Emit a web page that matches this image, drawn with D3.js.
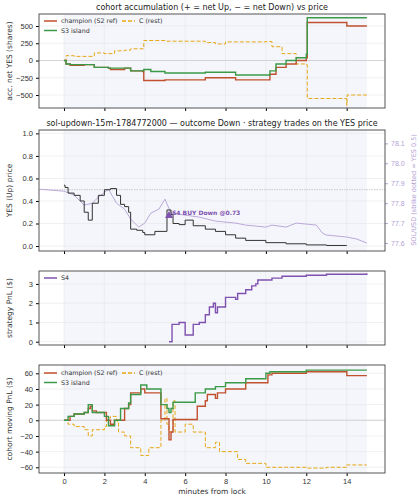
<!DOCTYPE html><html><head><meta charset="utf-8"><script src="https://cdn.jsdelivr.net/npm/d3@7"></script>
<style>body{margin:0;background:#fff}svg{font-family:"DejaVu Sans",sans-serif}</style></head><body><svg id="c" width="419" height="500"></svg><script>
const accChampion=[[0,0],[0.1,-50],[0.3,-70],[1,-60],[1.5,-100],[2.2,-110],[2.3,-130],[3,-110],[3.3,-150],[3.9,-160],[3.95,-290],[5,-280],[7,-250],[8.5,-280],[10,-280],[10.2,-200],[10.5,-100],[11,-50],[11.5,0],[12,40],[12.05,550],[14,550],[14.01,500],[15,500]];
const accS3=[[0,0],[0.1,-50],[0.3,-60],[1,-60],[1.5,-100],[2.2,-110],[3,-110],[3.3,-150],[3.95,-130],[4.3,-160],[5,-180],[7,-170],[8.5,-210],[10,-210],[10.2,-150],[10.5,-50],[11,0],[11.5,40],[12,90],[12.05,620],[15,620]];
const accC=[[0,0],[0.1,70],[0.5,60],[1.5,110],[2,100],[2.5,140],[3,150],[3.3,170],[3.95,290],[5,280],[7,260],[7.5,240],[8,270],[10,275],[10.3,200],[10.8,100],[11.5,-50],[12,-60],[12.05,-550],[13.98,-550],[14,-650],[14.02,-500],[15,-500]];
const yesPrice=[[0,0.54],[0.05,0.52],[0.2,0.47],[0.5,0.45],[0.8,0.4],[1,0.3],[1.2,0.23],[1.4,0.38],[1.7,0.45],[2,0.5],[2.3,0.51],[2.6,0.45],[2.8,0.37],[3,0.35],[3.2,0.3],[3.3,0.15],[3.6,0.14],[3.9,0.12],[4,0.1],[4.5,0.13],[5,0.13],[5.1,0.32],[5.3,0.28],[5.4,0.2],[5.7,0.19],[6,0.23],[6.4,0.18],[7,0.15],[7.5,0.13],[8,0.1],[8.5,0.07],[9,0.05],[10,0.03],[11,0.02],[12,0.01],[13,0.005],[14,0.003]];
const solPrice=[[-1.2,77.87],[0,77.86],[0.5,77.84],[1,77.79],[1.4,77.80],[1.7,77.83],[2.2,77.87],[2.6,77.80],[3,77.77],[3.3,77.72],[3.7,77.68],[4,77.70],[4.3,77.75],[4.7,77.77],[5,77.82],[5.3,77.75],[6,77.74],[6.7,77.73],[7.5,77.71],[8.5,77.70],[9,77.69],[10,77.68],[10.3,77.69],[11,77.68],[11.5,77.70],[12.5,77.69],[12.8,77.65],[13,77.64],[14,77.63],[14.5,77.62],[15,77.60]];
const s4Pnl=[[5.2,0],[5.35,0.9],[5.7,1.0],[6.0,0.35],[6.4,0.9],[6.7,1.0],[7,1.4],[7.2,1.8],[7.4,2.0],[7.5,1.5],[7.6,1.8],[8,2.3],[8.5,2.2],[8.6,2.5],[9,2.7],[9.3,2.9],[9.5,3.0],[9.6,3.2],[10,3.2],[10.3,3.3],[10.8,3.4],[12,3.45],[13,3.5],[15,3.55]];
const pnlChampion=[[0,0],[0.3,5],[0.5,8],[1,10],[1.2,15],[1.3,18],[1.4,12],[1.6,10],[2,10],[2.1,0],[2.3,-5],[2.5,0],[3,15],[3.2,20],[3.3,35],[3.8,40],[4,35],[4.6,35],[4.8,2],[5.1,2],[5.2,-25],[5.3,-15],[5.4,1],[6.5,1],[6.6,18],[7,25],[7.1,33],[7.5,28],[7.6,35],[8,40],[9,48],[10,48],[10.1,58],[10.3,60],[12,62],[14,62],[14.01,57],[15,57]];
const pnlS3=[[0,0],[0.2,5],[0.5,8],[1,10],[1.2,20],[1.4,10],[2,5],[2.2,-7],[2.5,0],[2.8,15],[3.2,22],[3.3,33],[3.8,45],[4.1,40],[4.7,40],[4.8,20],[5.1,15],[5.2,10],[5.3,15],[5.4,23],[6.3,23],[6.5,35],[7,40],[7.5,43],[8,48],[9,53],[10,60],[10.2,62],[12,64],[15,64]];
const pnlC=[[0,0],[0.2,-5],[0.5,-8],[1,-12],[1.2,-20],[1.4,-12],[2,-8],[2.1,3],[2.3,5],[2.6,-1],[2.7,-15],[3,-20],[3.3,-35],[3.8,-45],[4.2,-35],[4.6,-35],[4.8,0],[5.0,28],[5.1,-5],[5.2,-15],[5.4,25],[5.5,-15],[6,-5],[6.4,-15],[7,-35],[7.5,-28],[7.7,-40],[8.5,-40],[8.6,-50],[9,-55],[10,-60],[11,-60],[12,-61],[13,-60],[14,-57],[15,-57]];
const xTicks=[0,2,4,6,8,10,12,14];
const trade={x:5.2,y:0.27,label:"S4 BUY Down @0.73"};
const COL={ch:"#c1502e",s3:"#3b9a48",c:"#e6a817",s4:"#7f52b0",sol:"#b3a0d6"};

const svg=d3.select("#c");
const L=39,R=385;
const x=d3.scaleLinear().domain([-1.24,15.9]).range([L,R]);
function panel(top,bot,dom,ticks,ylab,fmt,showX){
  const y=d3.scaleLinear().domain(dom).range([bot,top]);
  const g=svg.append("g");
  g.append("rect").attr("x",L).attr("y",top).attr("width",R-L).attr("height",bot-top).attr("fill","#fff");
  g.append("rect").attr("x",x(0)).attr("y",top).attr("width",x(15)-x(0)).attr("height",bot-top).attr("fill","#f4f6fb");
  xTicks.forEach(t=>g.append("line").attr("x1",x(t)).attr("x2",x(t)).attr("y1",top).attr("y2",bot).attr("stroke","#e6e6e6").attr("stroke-width",0.6));
  ticks.forEach(t=>g.append("line").attr("x1",L).attr("x2",R).attr("y1",y(t)).attr("y2",y(t)).attr("stroke","#e6e6e6").attr("stroke-width",0.6));
  const ax=g.append("g").attr("transform",`translate(${L},0)`).call(d3.axisLeft(y).tickValues(ticks).tickFormat(fmt).tickSize(3));
  ax.select(".domain").remove();ax.selectAll("text").attr("font-size",7.5).attr("fill","#333");
  const bx=g.append("g").attr("transform",`translate(0,${bot})`).call(d3.axisBottom(x).tickValues(xTicks).tickSize(3).tickFormat(showX?d3.format("d"):""));
  bx.select(".domain").remove();bx.selectAll("text").attr("font-size",7.5).attr("fill","#333");
  g.append("text").attr("transform",`translate(12,${(top+bot)/2}) rotate(-90)`).attr("text-anchor","middle").attr("font-size",7.5).attr("fill","#333").text(ylab);
  return {g,y,top,bot,frame:()=>svg.append("rect").attr("x",L).attr("y",top).attr("width",R-L).attr("height",bot-top).attr("fill","none").attr("stroke","#555").attr("stroke-width",1)};
}
const minus=d=>d3.format("d")(d).replace("-","−");
function step(p,data,col,w,dash,op){
  const ln=d3.line().x(d=>x(d[0])).y(d=>p.y(d[1])).curve(d3.curveStepAfter);
  p.g.append("path").attr("d",ln(data)).attr("fill","none").attr("stroke",col).attr("stroke-width",w).attr("stroke-dasharray",dash||null).attr("opacity",op||1);
}
function legend(p,items,x0,y0){
  items.forEach((it,i)=>{
    const xx=x0+(it.col2?78:0),yy=y0+(it.row||0)*9.5;
    p.g.append("line").attr("x1",xx).attr("x2",xx+13).attr("y1",yy).attr("y2",yy).attr("stroke",it.c).attr("stroke-width",1.5).attr("stroke-dasharray",it.d||null);
    p.g.append("text").attr("x",xx+17).attr("y",yy+2.3).attr("font-size",6.3).attr("fill","#333").text(it.t);
  });
}
svg.append("text").attr("x",212).attr("y",10).attr("text-anchor","middle").attr("font-size",8).attr("fill","#222").text("cohort accumulation (+ = net Up, − = net Down) vs price");
const p1=panel(14,108,[-688,674],[-500,-250,0,250,500],"acc. net YES (shares)",minus,false);
p1.g.append("line").attr("x1",L).attr("x2",R).attr("y1",p1.y(0)).attr("y2",p1.y(0)).attr("stroke","#ccc").attr("stroke-width",0.8);
step(p1,accC,COL.c,1,"4,2");
step(p1,accChampion,COL.ch,1.4);
step(p1,accS3,COL.s3,1.4);
legend(p1,[{t:"champion (S2 ref)",c:COL.ch},{t:"C (rest)",c:COL.c,d:"4,2",col2:true},{t:"S3 island",c:COL.s3,row:1}],44,21);
p1.frame();
svg.append("text").attr("x",212).attr("y",126).attr("text-anchor","middle").attr("font-size",8).attr("fill","#222").text("sol-updown-15m-1784772000 — outcome Down · strategy trades on the YES price");
const p2=panel(130,251,[-0.044,1.03],[0,0.2,0.4,0.6,0.8,1.0],"YES (Up) price",d3.format(".1f"),false);
const ys=d3.scaleLinear().domain([77.56,78.167]).range([251,130]);
p2.g.append("line").attr("x1",L).attr("x2",R).attr("y1",p2.y(0.5)).attr("y2",p2.y(0.5)).attr("stroke","#c8c8c8").attr("stroke-dasharray","1.5,1");
const ra=p2.g.append("g").attr("transform",`translate(${R},0)`).call(d3.axisRight(ys).tickValues([77.6,77.7,77.8,77.9,78.0,78.1]).tickFormat(d3.format(".1f")).tickSize(3));
ra.select(".domain").remove();ra.selectAll("text").attr("font-size",7).attr("fill",COL.sol);ra.selectAll("line").attr("stroke",COL.sol);
p2.g.append("text").attr("transform",`translate(416,190) rotate(-90)`).attr("text-anchor","middle").attr("font-size",6.5).attr("fill",COL.sol).text("SOL/USD (strike dotted = YES 0.5)");
p2.g.append("path").attr("d",d3.line().x(d=>x(d[0])).y(d=>ys(d[1]))(solPrice)).attr("fill","none").attr("stroke",COL.sol).attr("stroke-width",0.9);
step(p2,yesPrice,"#333",1);
p2.g.append("path").attr("d",d3.symbol(d3.symbolTriangle,28)()).attr("transform",`translate(${x(trade.x)},${p2.y(trade.y)})`).attr("fill",COL.s4);
p2.g.append("text").attr("x",x(trade.x)+3).attr("y",p2.y(trade.y)-1).attr("font-size",6).attr("font-weight","bold").attr("fill",COL.s4).text(trade.label);
p2.frame();
const p3=panel(271,345,[-0.17,3.67],[0,1,2,3],"strategy PnL ($)",d3.format("d"),false);
step(p3,s4Pnl,COL.s4,1.4);
legend(p3,[{t:"S4",c:COL.s4}],44,278);
p3.frame();
const p4=panel(365,473,[-67.3,70.6],[-60,-40,-20,0,20,40,60],"cohort moving PnL ($)",minus,true);
p4.g.append("line").attr("x1",L).attr("x2",R).attr("y1",p4.y(0)).attr("y2",p4.y(0)).attr("stroke","#ccc").attr("stroke-width",0.8);
step(p4,pnlC,COL.c,1,"4,2");
step(p4,pnlChampion,COL.ch,1.4);
step(p4,pnlS3,COL.s3,1.4);
legend(p4,[{t:"champion (S2 ref)",c:COL.ch},{t:"C (rest)",c:COL.c,d:"4,2",col2:true},{t:"S3 island",c:COL.s3,row:1}],44,373);
p4.frame();
svg.append("text").attr("x",212).attr("y",494).attr("text-anchor","middle").attr("font-size",7.5).attr("fill","#333").text("minutes from lock");
</script></body></html>
